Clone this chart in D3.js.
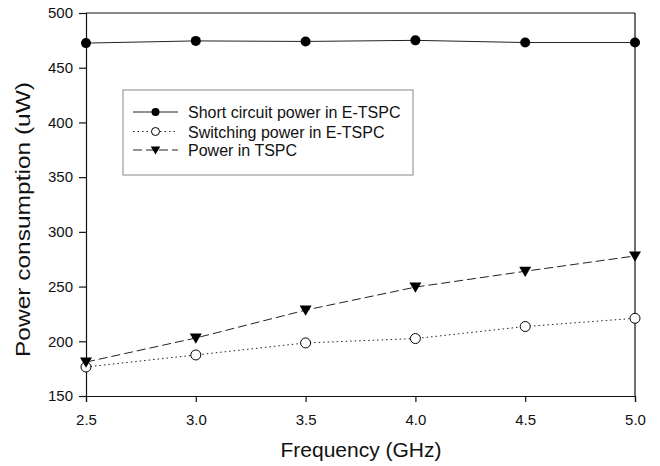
<!DOCTYPE html>
<html>
<head>
<meta charset="utf-8">
<script src="https://d3js.org/d3.v7.min.js"></script>
<style>
  body { margin: 0; background: #fff; }
  svg { font-family: "Liberation Sans", Arial, sans-serif; }
</style>
</head>
<body>
<div id="chart"></div>
<script>
var freq = [2.5, 3.0, 3.5, 4.0, 4.5, 5.0];
var shortCircuit = [472.5, 474.5, 474, 475, 473, 473];
var switching = [176.5, 187.5, 198.5, 202.5, 213.5, 221];
var tspc = [181, 203, 228.5, 249.5, 264, 278];
var xTicks = [2.5, 3.0, 3.5, 4.0, 4.5, 5.0];
var yTicks = [150, 200, 250, 300, 350, 400, 450, 500];
var seriesNames = ["Short circuit power in E-TSPC", "Switching power in E-TSPC", "Power in TSPC"];

var margin = {left: 86, right: 25, top: 13, bottom: 70};
var width = 660, height = 466;

var svg = d3.select("#chart").append("svg")
  .attr("width", width)
  .attr("height", height);

var x = d3.scaleLinear().domain([2.5, 5.0]).range([margin.left, width - margin.right]);
var y = d3.scaleLinear().domain([150, 500]).range([height - margin.bottom, margin.top]);

// frame top and right
svg.append("line")
  .attr("x1", x(2.5)).attr("x2", x(5.0))
  .attr("y1", y(500)).attr("y2", y(500))
  .attr("stroke", "#111").attr("stroke-width", 1.2);
svg.append("line")
  .attr("x1", x(5.0)).attr("x2", x(5.0))
  .attr("y1", y(500)).attr("y2", y(150))
  .attr("stroke", "#111").attr("stroke-width", 1.2);

var xAxis = d3.axisBottom(x).tickValues(xTicks).tickFormat(d3.format(".1f")).tickSizeOuter(0).tickSize(6).tickPadding(12);
var yAxis = d3.axisLeft(y).tickValues(yTicks).tickSizeOuter(0).tickSize(7).tickPadding(6);

var gx = svg.append("g")
  .attr("transform", "translate(0," + y(150) + ")")
  .call(xAxis);
var gy = svg.append("g")
  .attr("transform", "translate(" + x(2.5) + ",0)")
  .call(yAxis);

[gx, gy].forEach(function(g){
  g.selectAll("path, line").attr("stroke", "#111").attr("stroke-width", 1.2);
  g.selectAll("text").attr("fill", "#111").style("font-size", "15px")
    .style("font-family", "'Liberation Sans', Arial, sans-serif");
});

// axis titles
svg.append("text")
  .attr("x", 361)
  .attr("y", 457)
  .attr("text-anchor", "middle")
  .style("font-size", "21px")
  .attr("fill", "#111")
  .text("Frequency (GHz)");

svg.append("text")
  .attr("transform", "translate(30,219.5) rotate(-90)")
  .attr("x", -137.5)
  .attr("textLength", 275)
  .attr("lengthAdjust", "spacingAndGlyphs")
  .style("font-size", "21px")
  .attr("fill", "#111")
  .text("Power consumption (uW)");

var line = d3.line()
  .x(function(d, i){ return x(freq[i]); })
  .y(function(d){ return y(d); });

var styles = [
  {data: shortCircuit, dash: null, marker: "dot"},
  {data: switching, dash: "1.5,3", marker: "open"},
  {data: tspc, dash: "9,4", marker: "tri"}
];

function drawMarker(g, kind, cx, cy, scale) {
  scale = scale || 1;
  if (kind === "dot") {
    g.append("circle").attr("cx", cx).attr("cy", cy).attr("r", 5 * scale).attr("fill", "#000");
  } else if (kind === "open") {
    g.append("circle").attr("cx", cx).attr("cy", cy).attr("r", 5 * scale)
      .attr("fill", "#fff").attr("stroke", "#000").attr("stroke-width", 1);
  } else {
    var s = 6 * scale;
    g.append("path")
      .attr("d", "M" + (cx - s) + "," + (cy - s * 0.75) + "L" + (cx + s) + "," + (cy - s * 0.75) + "L" + cx + "," + (cy + s * 0.95) + "Z")
      .attr("fill", "#000");
  }
}

styles.forEach(function(s){
  svg.append("path")
    .datum(s.data)
    .attr("d", line)
    .attr("fill", "none")
    .attr("stroke", "#222")
    .attr("stroke-width", 1)
    .attr("stroke-dasharray", s.dash);
  var g = svg.append("g");
  s.data.forEach(function(v, i){
    drawMarker(g, s.marker, x(freq[i]), y(v));
  });
});

// legend
var lg = svg.append("g");
lg.append("rect")
  .attr("x", 123).attr("y", 90)
  .attr("width", 290).attr("height", 85)
  .attr("fill", "#fff")
  .attr("stroke", "#888").attr("stroke-width", 1);

var legendY = [112, 131.5, 150];
styles.forEach(function(s, i){
  lg.append("line")
    .attr("x1", 133).attr("x2", 178)
    .attr("y1", legendY[i]).attr("y2", legendY[i])
    .attr("stroke", "#222").attr("stroke-width", 1)
    .attr("stroke-dasharray", s.dash);
  drawMarker(lg, s.marker, 155.5, legendY[i], 0.8);
  lg.append("text")
    .attr("x", 188).attr("y", legendY[i] + 6)
    .style("font-size", "16px")
    .attr("fill", "#111")
    .text(seriesNames[i]);
});
</script>
</body>
</html>
